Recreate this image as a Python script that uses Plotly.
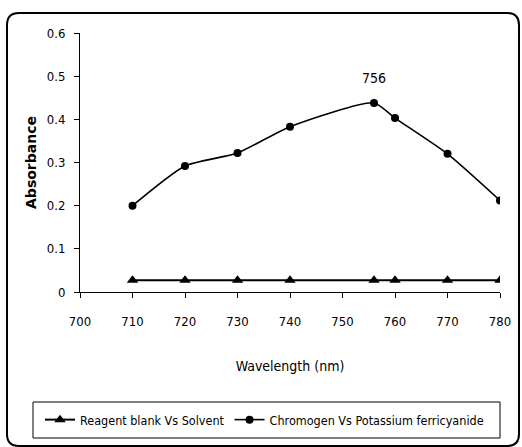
import plotly.graph_objects as go

wavelength = [710, 720, 730, 740, 756, 760, 770, 780]
blank_abs = [0.027, 0.027, 0.027, 0.027, 0.027, 0.027, 0.027, 0.027]
chromogen_abs = [0.200, 0.292, 0.322, 0.383, 0.438, 0.403, 0.320, 0.212]
x_ticks = [700, 710, 720, 730, 740, 750, 760, 770, 780]
y_ticks = [0, 0.1, 0.2, 0.3, 0.4, 0.5, 0.6]
peak_label = "756"

FONT = "DejaVu Sans Condensed, sans-serif"

fig = go.Figure()
fig.add_trace(go.Scatter(
    x=wavelength, y=blank_abs, mode="lines+markers",
    name="Reagent blank Vs Solvent",
    line=dict(color="black", width=2),
    marker=dict(symbol="triangle-up", size=10, color="black"),
))
fig.add_trace(go.Scatter(
    x=wavelength, y=chromogen_abs, mode="lines+markers",
    name="Chromogen Vs Potassium ferricyanide",
    line=dict(color="black", width=1.6, shape="spline", smoothing=0.6),
    marker=dict(symbol="circle", size=8, color="black"),
))

W, H = 522, 447
L, R, T, B = 80, 22, 33, 155
pw, ph = W - L - R, H - T - B

def px(x):
    return (x - L) / pw

def py(y):
    return (H - B - y) / ph

# outer rounded border
x0, x1, y0, y1 = px(7), px(519), py(13), py(446)
rx, ry = 12 / pw, 12 / ph
path = (f"M {x0+rx},{y0} L {x1-rx},{y0} Q {x1},{y0} {x1},{y0-ry} "
        f"L {x1},{y1+ry} Q {x1},{y1} {x1-rx},{y1} L {x0+rx},{y1} "
        f"Q {x0},{y1} {x0},{y1+ry} L {x0},{y0-ry} Q {x0},{y0} {x0+rx},{y0} Z")
fig.add_shape(type="path", path=path, xref="paper", yref="paper",
              line=dict(color="black", width=2), layer="below")
# legend box
fig.add_shape(type="rect", xref="paper", yref="paper",
              x0=px(33), x1=px(500), y0=py(402), y1=py(438),
              line=dict(color="black", width=1))

fig.add_annotation(x=wavelength[chromogen_abs.index(max(chromogen_abs))],
                   y=max(chromogen_abs), text=peak_label, showarrow=False,
                   yshift=25, font=dict(family=FONT, size=14, color="black"))

fig.update_layout(
    width=W, height=H,
    margin=dict(l=L, r=R, t=T, b=B),
    paper_bgcolor="white", plot_bgcolor="white",
    font=dict(family=FONT, size=13, color="black"),
    showlegend=True,
    legend=dict(orientation="h", x=px(40), y=py(420), xanchor="left", yanchor="middle",
                font=dict(family=FONT, size=12.5, color="black"),
                bgcolor="rgba(0,0,0,0)", itemwidth=30, tracegroupgap=0),
    xaxis=dict(range=[700, 780], tickvals=x_ticks, showgrid=False, zeroline=False,
               showline=True, linecolor="black", linewidth=1,
               ticks="outside", ticklen=5, tickcolor="black",
               ticklabelstandoff=12,
               title=dict(text="Wavelength (nm)", standoff=33,
                          font=dict(family=FONT, size=14))),
    yaxis=dict(range=[0, 0.6], tickvals=y_ticks, showgrid=False, zeroline=False,
               showline=True, linecolor="black", linewidth=1,
               ticks="outside", ticklen=5, tickcolor="black",
               ticklabelstandoff=6,
               title=dict(text="<b>Absorbance</b>", standoff=6,
                          font=dict(family="DejaVu Sans, sans-serif", size=14))),
)

fig.write_html("out.html")
